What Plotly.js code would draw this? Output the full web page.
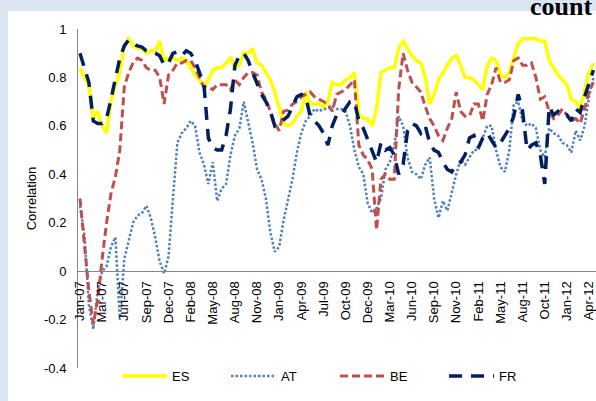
<!DOCTYPE html>
<html>
<head>
<meta charset="utf-8">
<script src="https://cdn.plot.ly/plotly-3.0.1.min.js"></script>
<style>
html,body{margin:0;padding:0;background:#dce6f2;}
#chart{width:596px;height:401px;}
</style>
</head>
<body>
<div id="chart"></div>
<script>
// Tick labels of the category axis (one label every 5 samples)
const tickLabels = ['Jan-07','Mar-07','Jun-07','Sep-07','Dec-07','Feb-08','May-08','Aug-08','Nov-08','Jan-09','Apr-09','Jul-09','Oct-09','Dec-09','Mar-10','Jun-10','Sep-10','Nov-10','Feb-11','May-11','Aug-11','Oct-11','Jan-12','Apr-12'];
const samplesPerLabel = 5;

const seriesNames = ['ES','AT','BE','FR'];

const es = [
 0.84,0.80,0.77,0.63,0.66,0.60,0.57,0.70,0.77,0.82,
 0.93,0.96,0.93,0.92,0.92,0.90,0.91,0.91,0.95,0.87,
 0.88,0.88,0.87,0.88,0.87,0.84,0.81,0.79,0.76,0.79,
 0.83,0.84,0.84,0.86,0.88,0.84,0.85,0.90,0.90,0.92,
 0.86,0.85,0.82,0.79,0.74,0.67,0.61,0.60,0.61,0.64,
 0.66,0.74,0.69,0.69,0.69,0.68,0.70,0.78,0.77,0.77,
 0.79,0.80,0.82,0.645,0.63,0.63,0.60,0.67,0.82,0.83,
 0.84,0.84,0.92,0.95,0.92,0.89,0.87,0.86,0.80,0.69,
 0.73,0.79,0.82,0.85,0.88,0.89,0.85,0.80,0.80,0.79,
 0.77,0.75,0.85,0.88,0.87,0.81,0.80,0.82,0.88,0.94,
 0.96,0.96,0.96,0.96,0.95,0.95,0.87,0.84,0.81,0.79,
 0.77,0.71,0.70,0.67,0.74,0.82,0.86
];
const at = [
 0.27,0.15,-0.14,-0.24,-0.08,0.00,0.02,0.10,0.14,-0.20,
 0.05,0.12,0.20,0.23,0.24,0.27,0.22,0.14,0.04,-0.01,
 0.06,0.30,0.53,0.57,0.59,0.62,0.60,0.49,0.44,0.36,
 0.45,0.29,0.34,0.36,0.48,0.56,0.59,0.70,0.62,0.53,
 0.42,0.38,0.30,0.16,0.08,0.10,0.21,0.30,0.38,0.49,
 0.57,0.62,0.64,0.67,0.66,0.67,0.67,0.68,0.67,0.67,
 0.66,0.60,0.50,0.43,0.40,0.28,0.24,0.26,0.30,0.42,
 0.45,0.52,0.64,0.60,0.47,0.41,0.40,0.38,0.44,0.47,
 0.30,0.22,0.29,0.25,0.33,0.40,0.46,0.44,0.47,0.50,
 0.50,0.55,0.60,0.60,0.50,0.43,0.41,0.50,0.69,0.70,
 0.62,0.60,0.61,0.59,0.50,0.47,0.59,0.57,0.56,0.53,
 0.52,0.49,0.58,0.54,0.60,0.72,0.80
];
const be = [
 0.30,0.12,-0.08,-0.22,-0.12,0.05,0.20,0.32,0.39,0.50,
 0.76,0.82,0.86,0.88,0.87,0.84,0.83,0.83,0.80,0.69,
 0.81,0.83,0.86,0.86,0.87,0.87,0.84,0.80,0.76,0.76,
 0.75,0.77,0.77,0.77,0.75,0.79,0.77,0.80,0.82,0.82,
 0.81,0.74,0.71,0.66,0.61,0.58,0.66,0.665,0.69,0.70,
 0.72,0.73,0.74,0.72,0.71,0.70,0.69,0.66,0.73,0.74,
 0.75,0.77,0.79,0.52,0.48,0.46,0.42,0.17,0.38,0.40,
 0.38,0.38,0.75,0.90,0.83,0.78,0.76,0.74,0.68,0.63,
 0.60,0.56,0.54,0.59,0.63,0.74,0.66,0.64,0.64,0.69,
 0.69,0.62,0.73,0.77,0.84,0.78,0.78,0.79,0.87,0.88,
 0.85,0.85,0.86,0.80,0.71,0.72,0.66,0.63,0.645,0.67,
 0.645,0.62,0.63,0.61,0.67,0.74,0.78
];
const fr = [
 0.90,0.84,0.78,0.62,0.61,0.61,0.63,0.71,0.80,0.88,
 0.93,0.955,0.94,0.93,0.925,0.91,0.905,0.90,0.89,0.85,
 0.86,0.90,0.905,0.89,0.91,0.90,0.87,0.82,0.77,0.55,
 0.51,0.50,0.50,0.56,0.67,0.85,0.89,0.90,0.87,0.82,
 0.77,0.73,0.70,0.66,0.60,0.61,0.625,0.64,0.68,0.72,
 0.73,0.72,0.64,0.62,0.60,0.57,0.52,0.60,0.645,0.645,
 0.67,0.70,0.70,0.62,0.59,0.54,0.50,0.45,0.53,0.50,
 0.51,0.48,0.40,0.44,0.58,0.61,0.60,0.57,0.60,0.53,
 0.50,0.49,0.45,0.42,0.41,0.44,0.45,0.48,0.55,0.56,
 0.51,0.55,0.57,0.54,0.51,0.53,0.56,0.59,0.64,0.73,
 0.66,0.50,0.52,0.53,0.48,0.36,0.68,0.645,0.66,0.64,
 0.645,0.62,0.67,0.655,0.72,0.77,0.83
];

const yTickVals = [-0.4,-0.2,0,0.2,0.4,0.6,0.8,1];
const yTickText = ['-0.4','-0.2','0','0.2','0.4','0.6','0.8','1'];

const xs = es.map((_, i) => i);
const tickVals = tickLabels.map((_, k) => k * samplesPerLabel);

const FONT = 'Liberation Sans, Arial, sans-serif';

const traces = [
  {x: xs, y: es, name: seriesNames[0], type: 'scatter', mode: 'lines',
   line: {color: '#ffff00', width: 3.5}},
  {x: xs, y: at, name: seriesNames[1], type: 'scatter', mode: 'lines',
   line: {color: '#4f81bd', width: 2.5, dash: '2.5px,2px'}},
  {x: xs, y: be, name: seriesNames[2], type: 'scatter', mode: 'lines',
   line: {color: '#c0504d', width: 3, dash: '8px,4px'}},
  {x: xs, y: fr, name: seriesNames[3], type: 'scatter', mode: 'lines',
   line: {color: '#002060', width: 3.5, dash: '13px,9px'}}
];

const layout = {
  width: 596, height: 401,
  margin: {l: 78, r: 0, t: 29, b: 33, pad: 0, autoexpand: false},
  paper_bgcolor: '#dce6f2',
  plot_bgcolor: '#ffffff',
  font: {family: FONT, size: 13, color: '#000000'},
  showlegend: true,
  xaxis: {
    type: 'linear', range: [-0.452, 116.58],
    tickvals: tickVals, ticktext: tickLabels, tickangle: -90,
    tickfont: {family: FONT, size: 13, color: '#000000'},
    showgrid: false, zeroline: false, showline: true,
    linecolor: '#868686', linewidth: 1, ticks: '',
    anchor: 'free', position: 0.4 / 1.4,
    ticklabelstandoff: 4, ticklabeloverflow: 'allow'
  },
  yaxis: {
    range: [-0.4, 1], tickvals: yTickVals, ticktext: yTickText,
    tickfont: {family: FONT, size: 13, color: '#000000'},
    showgrid: false, zeroline: false, showline: true,
    linecolor: '#868686', linewidth: 1, ticks: '',
    ticklabelstandoff: 8,
    title: {text: 'Correlation', font: {family: FONT, size: 13, color: '#000000'}, standoff: 4}
  },
  legend: {
    orientation: 'h', x: 0.0753, xanchor: 'left', y: -0.024, yanchor: 'middle',
    font: {family: FONT, size: 13, color: '#000000'},
    itemwidth: 45, entrywidth: 49, entrywidthmode: 'pixels',
    bgcolor: 'rgba(0,0,0,0)', borderwidth: 0
  },
  shapes: [{
    type: 'rect', xref: 'paper', yref: 'paper', layer: 'below',
    x0: -0.1351, x1: 1.05, y0: -0.11, y1: 1.0531,
    fillcolor: '#ffffff', line: {width: 0}
  }],
  annotations: [{
    text: 'count', xref: 'paper', yref: 'paper', x: 0.9961, y: 1.065,
    xanchor: 'right', yanchor: 'middle', showarrow: false,
    font: {family: 'Liberation Serif, Times New Roman, serif', size: 26, color: '#000000', weight: 'bold'}
  }]
};

Plotly.newPlot('chart', traces, layout, {staticPlot: true, displayModeBar: false});
</script>
</body>
</html>
